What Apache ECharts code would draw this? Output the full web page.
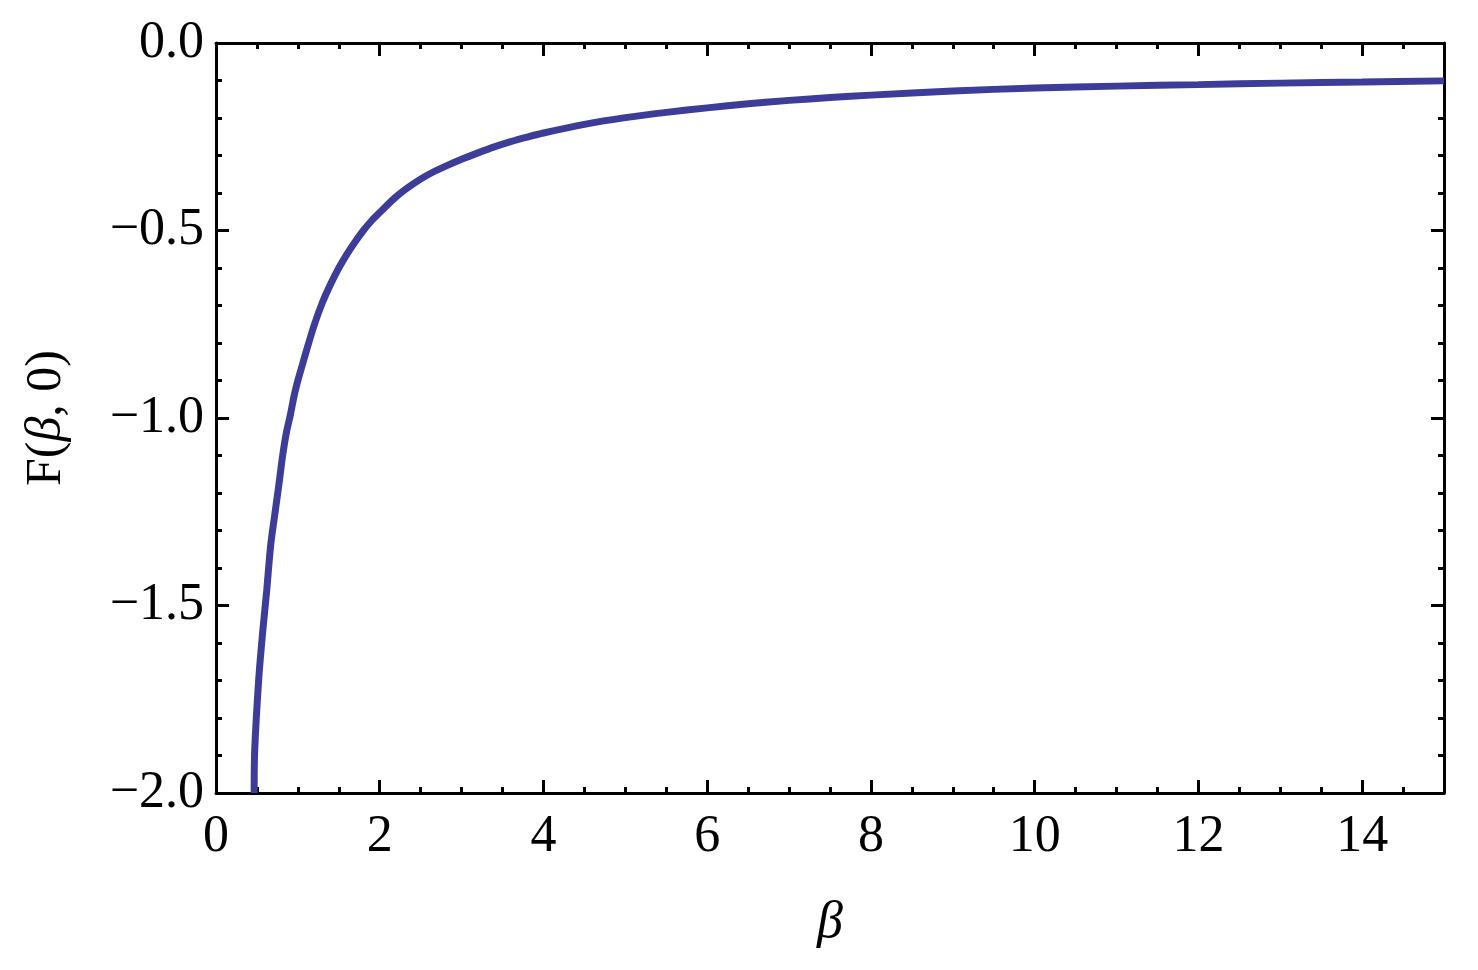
<!DOCTYPE html>
<html>
<head>
<meta charset="utf-8">
<script src="https://cdn.jsdelivr.net/npm/echarts@6/dist/echarts.min.js"></script>
<style>
html,body{margin:0;padding:0;background:#fff;}
#chart{width:1478px;height:970px;}
</style>
</head>
<body>
<div id="chart"></div>
<script>
// Data
const betaValues = [0.466, 0.473, 0.522, 0.570, 0.619, 0.668, 0.717, 0.766, 0.815, 0.859, 0.908, 0.956, 1.005, 1.054, 1.10, 1.20, 1.30, 1.40, 1.50, 1.60, 1.70, 1.80, 1.90, 2.00, 2.20, 2.40, 2.60, 2.80, 3.00, 3.20, 3.40, 3.60, 3.80, 4.00, 4.50, 5.00, 5.50, 6.00, 6.50, 7.00, 7.50, 8.00, 9.00, 10.00, 11.00, 12.00, 13.00, 14.00, 15.00];
const fValues = [-2.0, -1.885, -1.696, -1.571, -1.461, -1.339, -1.259, -1.181, -1.099, -1.040, -0.992, -0.939, -0.896, -0.859, -0.824, -0.752, -0.692, -0.643, -0.600, -0.563, -0.530, -0.500, -0.474, -0.452, -0.410, -0.377, -0.350, -0.329, -0.310, -0.293, -0.277, -0.263, -0.251, -0.240, -0.217, -0.199, -0.185, -0.173, -0.162, -0.153, -0.1455, -0.139, -0.128, -0.120, -0.115, -0.111, -0.107, -0.104, -0.101];
const xTickLabels = ['0', '2', '4', '6', '8', '10', '12', '14'];
const yTickLabels = ['\u22122.0', '\u22121.5', '\u22121.0', '\u22120.5', '0.0'];
const xAxisTitle = '\u03b2';
const yAxisTitle = '{n|F(}{i|\u03b2}{n|, 0)}';

const seriesData = betaValues.map((b, i) => [b, fValues[i]]);
const fontFam = '"Liberation Serif", "DejaVu Serif", serif';

const chart = echarts.init(document.getElementById('chart'), null, {renderer: 'canvas'});

function yLabel(v) {
  const idx = Math.round((v + 2) / 0.5);
  return (Math.abs((v + 2) / 0.5 - idx) < 1e-6 && yTickLabels[idx] !== undefined) ? yTickLabels[idx] : '';
}
function xLabel(v) {
  const idx = Math.round(v / 2);
  return (Math.abs(v / 2 - idx) < 1e-6 && xTickLabels[idx] !== undefined) ? xTickLabels[idx] : '';
}

const axisLine = {show: true, onZero: false, lineStyle: {color: '#000', width: 3}};
const tickStyle = {show: true, inside: true, length: 13, lineStyle: {color: '#000', width: 3}};
const minorStyle = {show: true, inside: true, length: 6, splitNumber: 4, lineStyle: {color: '#000', width: 3}};
const labelStyle = {fontFamily: fontFam, fontSize: 52, color: '#000'};

chart.setOption({
  backgroundColor: '#fff',
  animation: false,
  grid: {left: 216, right: 34, top: 43, bottom: 177, containLabel: false},
  xAxis: [
    {
      type: 'value', position: 'bottom', min: 0, max: 15, interval: 2,
      axisLine: axisLine, axisTick: tickStyle,
      minorTick: minorStyle,
      splitLine: {show: false},
      axisLabel: Object.assign({margin: 18, formatter: xLabel}, labelStyle),
      name: xAxisTitle, nameLocation: 'middle', nameGap: 104,
      nameTextStyle: {fontFamily: fontFam, fontSize: 52, fontStyle: 'italic', color: '#000'}
    },
    {
      type: 'value', position: 'top', min: 0, max: 15, interval: 2,
      axisLine: axisLine, axisTick: tickStyle,
      minorTick: minorStyle,
      splitLine: {show: false}, axisLabel: {show: false}
    }
  ],
  yAxis: [
    {
      type: 'value', position: 'left', min: -2, max: 0, interval: 0.5,
      axisLine: axisLine, axisTick: tickStyle,
      minorTick: Object.assign({}, minorStyle, {splitNumber: 5}),
      splitLine: {show: false},
      axisLabel: Object.assign({margin: 12, formatter: yLabel}, labelStyle),
      name: yAxisTitle, nameLocation: 'middle', nameGap: 144, nameRotate: 90,
      nameTextStyle: {
        fontFamily: fontFam, fontSize: 50, color: '#000',
        rich: {
          n: {fontFamily: fontFam, fontSize: 50, color: '#000'},
          i: {fontFamily: fontFam, fontSize: 50, fontStyle: 'italic', color: '#000'}
        }
      }
    },
    {
      type: 'value', position: 'right', min: -2, max: 0, interval: 0.5,
      axisLine: axisLine, axisTick: tickStyle,
      minorTick: Object.assign({}, minorStyle, {splitNumber: 5}),
      splitLine: {show: false}, axisLabel: {show: false}
    }
  ],
  series: [{
    type: 'line',
    xAxisIndex: 0, yAxisIndex: 0,
    data: seriesData,
    smooth: 0.3,
    showSymbol: false,
    clip: true,
    lineStyle: {color: '#3d3d99', width: 7},
    itemStyle: {color: '#3d3d99'}
  }]
});
</script>
</body>
</html>
